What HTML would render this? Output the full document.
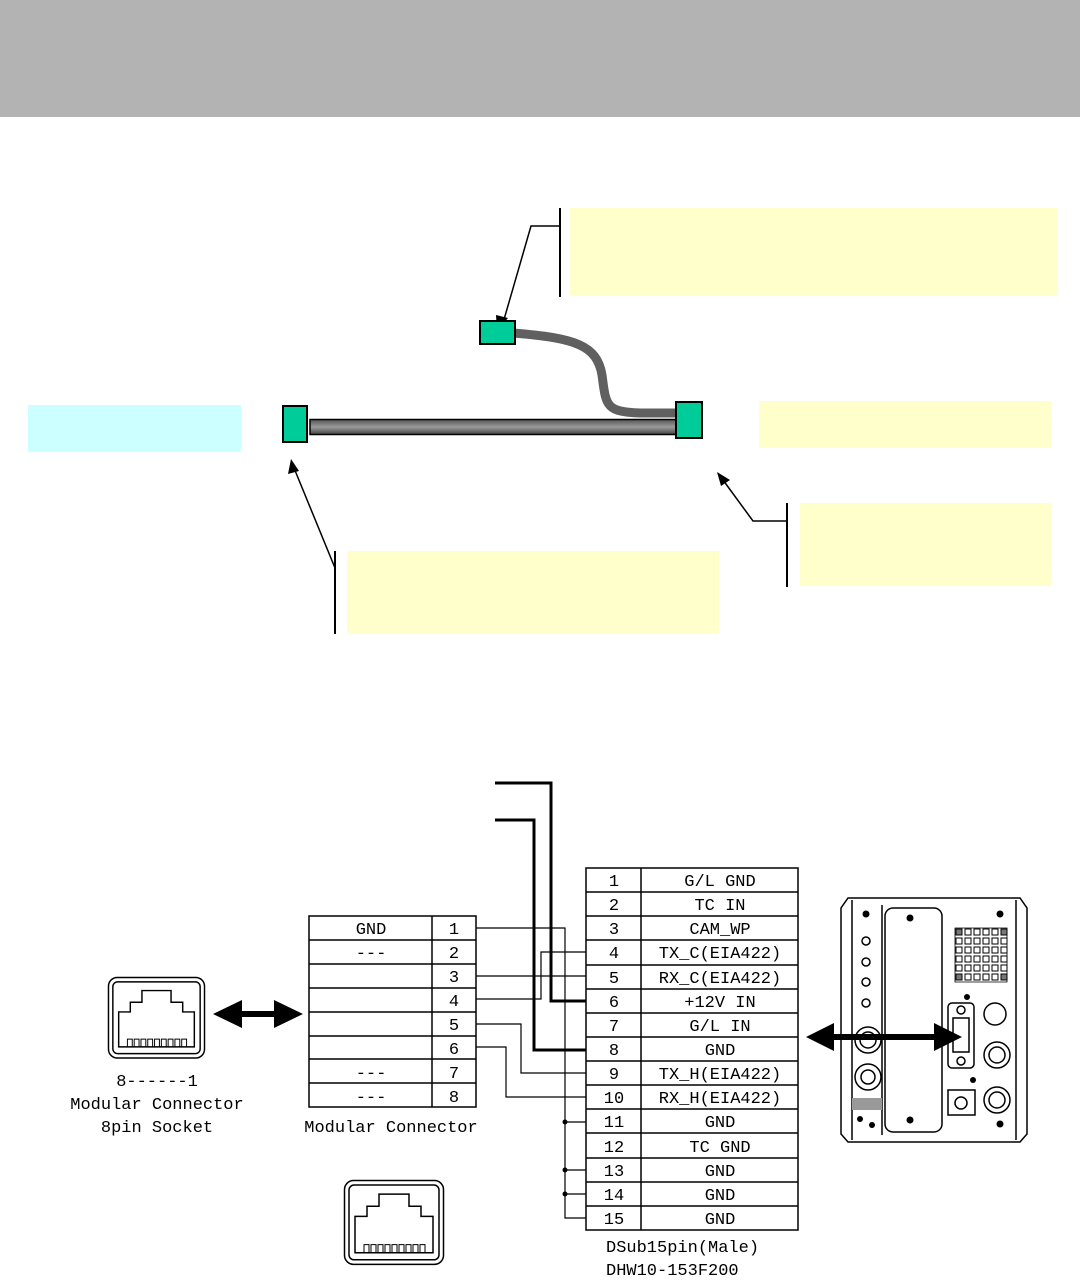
<!DOCTYPE html>
<html><head><meta charset="utf-8"><style>
html,body{margin:0;padding:0;background:#fff;}
svg{display:block;}
text{font-family:"Liberation Mono","Noto Sans CJK JP",monospace;font-size:17px;fill:#000;}
</style></head><body>
<svg width="1080" height="1281" viewBox="0 0 1080 1281" xmlns="http://www.w3.org/2000/svg">
<defs>
<linearGradient id="cab" x1="0" y1="0" x2="0" y2="1">
<stop offset="0" stop-color="#555"/><stop offset="0.5" stop-color="#9a9a9a"/><stop offset="1" stop-color="#444"/>
</linearGradient>
<g id="rj">
<rect x="0.5" y="0.5" width="99" height="83" rx="9" fill="#fff" stroke="#000" stroke-width="1.5"/>
<rect x="5" y="5" width="90" height="74" rx="5" fill="none" stroke="#000" stroke-width="1.5"/>
<path d="M11,72 V36 H23 V26 H35 V14 H65 V26 H77 V36 H89 V72 Z" fill="none" stroke="#000" stroke-width="1.5"/>
<path d="M20,72 V64 H25 V72 M27,72 V64 H32 V72 M34,72 V64 H39 V72 M41,72 V64 H46 V72 M48,72 V64 H53 V72 M55,72 V64 H60 V72 M62,72 V64 H67 V72 M69,72 V64 H74 V72 M76,72 V64 H81 V72" fill="none" stroke="#000" stroke-width="1"/>
</g>
<marker id="ah" markerWidth="10" markerHeight="10" refX="9" refY="5" orient="auto" markerUnits="userSpaceOnUse">
<path d="M0,0 L10,5 L0,10 Z" fill="#000"/></marker>
</defs>

<rect x="0" y="0" width="1080" height="117" fill="#b3b3b3"/>

<!-- callouts -->
<rect x="570" y="208" width="487" height="88" fill="#ffffcc"/>
<line x1="560" y1="208" x2="560" y2="297" stroke="#000" stroke-width="2"/>
<polyline points="560,226 531,226 503,323" fill="none" stroke="#000" stroke-width="1.5"/>
<path d="M497,331 L496,315 L508,318 Z" fill="#000"/>

<rect x="28" y="405" width="213" height="47" fill="#ccffff"/>
<rect x="759" y="401" width="292" height="47" fill="#ffffcc"/>
<rect x="800" y="503" width="251" height="83" fill="#ffffcc"/>
<line x1="787" y1="503" x2="787" y2="587" stroke="#000" stroke-width="2"/>
<polyline points="787,521 753,521 723,480" fill="none" stroke="#000" stroke-width="1.5"/>
<path d="M717,472 L730,480 L721,486 Z" fill="#000"/>
<rect x="347" y="551" width="372" height="83" fill="#ffffcc"/>
<line x1="335" y1="551" x2="335" y2="634" stroke="#000" stroke-width="2"/>
<line x1="335" y1="568" x2="294" y2="468" stroke="#000" stroke-width="1.5"/>
<path d="M291,459 L299,471 L288,474 Z" fill="#000"/>

<!-- cable -->
<path d="M513,333 C575,338 597,345 602,375 C606,405 605,412 640,413 L678,413" fill="none" stroke="#606060" stroke-width="9"/>
<rect x="310" y="419.5" width="368" height="15" fill="url(#cab)" stroke="#000" stroke-width="1.5"/>
<rect x="283" y="406" width="24" height="36" fill="#00cc99" stroke="#000" stroke-width="2"/>
<rect x="676" y="402" width="26" height="36" fill="#00cc99" stroke="#000" stroke-width="2"/>
<rect x="480" y="321" width="35" height="23" fill="#00cc99" stroke="#000" stroke-width="2"/>

<!-- thick wires -->
<polyline points="495,783 551,783 551,1001 586,1001" fill="none" stroke="#000" stroke-width="3"/>
<polyline points="495,820 534,820 534,1050 586,1050" fill="none" stroke="#000" stroke-width="3"/>

<!-- thin wires -->
<g fill="none" stroke="#000" stroke-width="1.2">
<polyline points="476,928 565,928 565,1218 586,1218"/>
<line x1="565" y1="1122" x2="586" y2="1122"/>
<line x1="565" y1="1170" x2="586" y2="1170"/>
<line x1="565" y1="1194" x2="586" y2="1194"/>
<line x1="476" y1="976" x2="586" y2="976"/>
<polyline points="476,999 541,999 541,952 586,952"/>
<polyline points="476,1024 521,1024 521,1073 586,1073"/>
<polyline points="476,1047 506,1047 506,1097 586,1097"/>
</g>
<circle cx="565" cy="1122" r="2.5"/><circle cx="565" cy="1170" r="2.5"/><circle cx="565" cy="1194" r="2.5"/>

<!-- modular table -->
<g stroke="#000" stroke-width="1.5" fill="none">
<rect x="309" y="916" width="167" height="191"/>
<line x1="432" y1="916" x2="432" y2="1107"/>
<line x1="309" y1="940" x2="476" y2="940"/><line x1="309" y1="964" x2="476" y2="964"/>
<line x1="309" y1="988" x2="476" y2="988"/><line x1="309" y1="1012" x2="476" y2="1012"/>
<line x1="309" y1="1036" x2="476" y2="1036"/><line x1="309" y1="1059" x2="476" y2="1059"/>
<line x1="309" y1="1083" x2="476" y2="1083"/>
</g>
<g text-anchor="middle">
<text x="371" y="934">GND</text><text x="371" y="958">---</text><text x="371" y="1078">---</text><text x="371" y="1102">---</text>
<text x="454" y="934">1</text><text x="454" y="958">2</text><text x="454" y="982">3</text><text x="454" y="1006">4</text>
<text x="454" y="1030">5</text><text x="454" y="1054">6</text><text x="454" y="1078">7</text><text x="454" y="1102">8</text>
<text x="391" y="1132">Modular Connector</text>
<text x="157" y="1086">8------1</text>
<text x="157" y="1109">Modular Connector</text>
<text x="157" y="1132">8pin Socket</text>
</g>

<!-- dsub table -->
<g stroke="#000" stroke-width="1.5" fill="none">
<rect x="586" y="868" width="212" height="362"/>
<line x1="641" y1="868" x2="641" y2="1230"/>
<line x1="586" y1="892" x2="798" y2="892"/><line x1="586" y1="916" x2="798" y2="916"/>
<line x1="586" y1="940" x2="798" y2="940"/><line x1="586" y1="965" x2="798" y2="965"/>
<line x1="586" y1="989" x2="798" y2="989"/><line x1="586" y1="1013" x2="798" y2="1013"/>
<line x1="586" y1="1037" x2="798" y2="1037"/><line x1="586" y1="1061" x2="798" y2="1061"/>
<line x1="586" y1="1085" x2="798" y2="1085"/><line x1="586" y1="1109" x2="798" y2="1109"/>
<line x1="586" y1="1133" x2="798" y2="1133"/><line x1="586" y1="1158" x2="798" y2="1158"/>
<line x1="586" y1="1182" x2="798" y2="1182"/><line x1="586" y1="1206" x2="798" y2="1206"/>
</g>
<g text-anchor="middle">
<text x="614" y="886">1</text><text x="614" y="910">2</text><text x="614" y="934">3</text><text x="614" y="958">4</text><text x="614" y="983">5</text>
<text x="614" y="1007">6</text><text x="614" y="1031">7</text><text x="614" y="1055">8</text><text x="614" y="1079">9</text><text x="614" y="1103">10</text>
<text x="614" y="1127">11</text><text x="614" y="1152">12</text><text x="614" y="1176">13</text><text x="614" y="1200">14</text><text x="614" y="1224">15</text>
<text x="720" y="886">G/L GND</text><text x="720" y="910">TC IN</text><text x="720" y="934">CAM_WP</text>
<text x="720" y="958">TX_C(EIA422)</text><text x="720" y="983">RX_C(EIA422)</text><text x="720" y="1007">+12V IN</text>
<text x="720" y="1031">G/L IN</text><text x="720" y="1055">GND</text><text x="720" y="1079">TX_H(EIA422)</text>
<text x="720" y="1103">RX_H(EIA422)</text><text x="720" y="1127">GND</text><text x="720" y="1152">TC GND</text>
<text x="720" y="1176">GND</text><text x="720" y="1200">GND</text><text x="720" y="1224">GND</text>
</g>
<text x="606" y="1252">DSub15pin(Male)</text>
<text x="606" y="1275">DHW10-153F200</text>

<!-- RJ icons -->
<use href="#rj" transform="translate(108,977) scale(0.97,0.97)"/>
<use href="#rj" transform="translate(344,1180) scale(1,1.01)"/>

<!-- left double arrow -->
<path d="M213,1014 L242,1000 L242,1011 L274,1011 L274,1000 L303,1014 L274,1028 L274,1017 L242,1017 L242,1028 Z" fill="#000"/>

<!-- camera panel -->
<g fill="none" stroke="#000" stroke-width="1.5">
<path d="M848,898 H1020 L1027,908 V1134 L1020,1142 H848 L841,1134 V908 Z"/>
<line x1="852" y1="900" x2="852" y2="1140"/><line x1="1016" y1="900" x2="1016" y2="1140"/>
<line x1="882" y1="905" x2="882" y2="1135"/>
<rect x="885" y="908" width="57" height="224" rx="8"/>
<circle cx="866" cy="941" r="4"/><circle cx="866" cy="962" r="4"/><circle cx="866" cy="982" r="4"/><circle cx="866" cy="1003" r="4"/>
<circle cx="868" cy="1040" r="13"/><circle cx="868" cy="1040" r="8"/>
<circle cx="868" cy="1077" r="13"/><circle cx="868" cy="1077" r="7"/>
<rect x="948" y="1003" width="26" height="65" rx="4"/>
<path d="M953,1018 H969 V1052 H953 Z"/>
<circle cx="961" cy="1010" r="4"/><circle cx="961" cy="1061" r="4"/>
<circle cx="995" cy="1014" r="11"/><circle cx="997" cy="1055" r="13"/><circle cx="997" cy="1055" r="8"/>
<circle cx="997" cy="1100" r="13"/><circle cx="997" cy="1100" r="8"/>
<rect x="948" y="1090" width="27" height="25"/><circle cx="961" cy="1103" r="6"/>
</g>
<rect x="852" y="1098" width="30" height="12" fill="#999"/>
<g fill="#000">
<circle cx="866" cy="914" r="3.5"/><circle cx="910" cy="918" r="3.5"/><circle cx="1000" cy="914" r="3.5"/>
<circle cx="910" cy="1120" r="3.5"/><circle cx="1000" cy="1124" r="3.5"/><circle cx="967" cy="997" r="3"/><circle cx="973" cy="1080" r="3"/>
<circle cx="860" cy="1119" r="3"/><circle cx="872" cy="1125" r="3"/>
</g>
<g fill="#666" stroke="#000" stroke-width="0.8">
<path d="M955,928 h52 v54 h-52 Z" fill="#fff"/>
</g>
<g stroke="#000" stroke-width="1" fill="#fff">
<rect x="956" y="929" width="6" height="6" fill="#777"/><rect x="965" y="929" width="6" height="6"/><rect x="974" y="929" width="6" height="6"/><rect x="983" y="929" width="6" height="6"/><rect x="992" y="929" width="6" height="6"/><rect x="1001" y="929" width="6" height="6" fill="#777"/>
<rect x="956" y="938" width="6" height="6"/><rect x="965" y="938" width="6" height="6"/><rect x="974" y="938" width="6" height="6"/><rect x="983" y="938" width="6" height="6"/><rect x="992" y="938" width="6" height="6"/><rect x="1001" y="938" width="6" height="6"/>
<rect x="956" y="947" width="6" height="6"/><rect x="965" y="947" width="6" height="6"/><rect x="974" y="947" width="6" height="6"/><rect x="983" y="947" width="6" height="6"/><rect x="992" y="947" width="6" height="6"/><rect x="1001" y="947" width="6" height="6"/>
<rect x="956" y="956" width="6" height="6"/><rect x="965" y="956" width="6" height="6"/><rect x="974" y="956" width="6" height="6"/><rect x="983" y="956" width="6" height="6"/><rect x="992" y="956" width="6" height="6"/><rect x="1001" y="956" width="6" height="6"/>
<rect x="956" y="965" width="6" height="6"/><rect x="965" y="965" width="6" height="6"/><rect x="974" y="965" width="6" height="6"/><rect x="983" y="965" width="6" height="6"/><rect x="992" y="965" width="6" height="6"/><rect x="1001" y="965" width="6" height="6"/>
<rect x="956" y="974" width="6" height="6" fill="#777"/><rect x="965" y="974" width="6" height="6"/><rect x="974" y="974" width="6" height="6"/><rect x="983" y="974" width="6" height="6"/><rect x="992" y="974" width="6" height="6"/><rect x="1001" y="974" width="6" height="6" fill="#777"/>
</g>

<!-- right double arrow -->
<path d="M806,1037 L834,1023 L834,1034 L934,1034 L934,1023 L962,1037 L934,1051 L934,1040 L834,1040 L834,1051 Z" fill="#000"/>
</svg>
</body></html>
